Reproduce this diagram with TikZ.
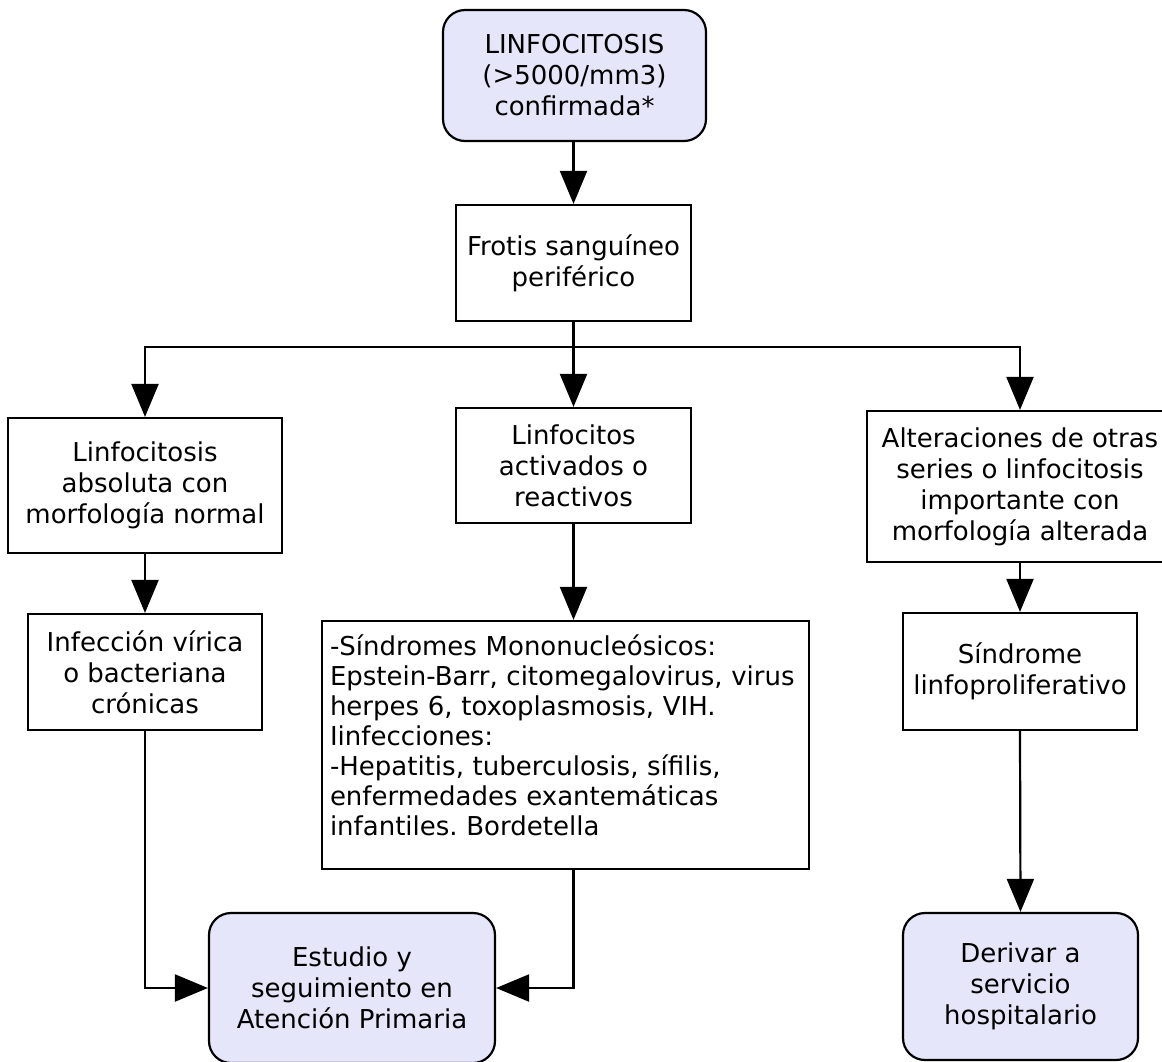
\documentclass[tikz,border=0pt]{standalone}
\usepackage{fontspec}
\setmainfont{DejaVu Sans}
\usetikzlibrary{arrows.meta}
\definecolor{lav}{HTML}{E6E6FA}
\begin{document}
\frenchspacing
\begin{tikzpicture}[x=1pt,y=-1pt,
  box/.style={draw=black, line width=2.2pt, align=center, inner sep=0pt,
    font=\fontsize{26}{31}\selectfont},
  rbox/.style={box, fill=lav, rounded corners=22pt},
  arr/.style={line width=2.2pt, -{Triangle[length=33pt,width=27pt]}},
  ln/.style={line width=2.2pt}]
\useasboundingbox (0,0) rectangle (1162,1061);
\node[rbox, minimum width=263pt, minimum height=131pt] (top) at (574.5,75.5)
  {LINFOCITOSIS\\(>5000/mm3)\\confirmada*};
\node[box, minimum width=235pt, minimum height=116pt] (frotis) at (573.5,263)
  {Frotis sanguíneo\\periférico};
\node[box, minimum width=274pt, minimum height=135pt] (left) at (145,485.5)
  {Linfocitosis\\absoluta con\\morfología normal};
\node[box, minimum width=235pt, minimum height=115pt] (mid) at (573.5,465.5)
  {Linfocitos\\activados o\\reactivos};
\node[box, minimum width=306pt, minimum height=151pt] (right) at (1020,486.5)
  {Alteraciones de otras\\series o linfocitosis\\importante con\\morfología alterada};
\node[box, minimum width=234pt, minimum height=116pt] (inf) at (145,672)
  {Infección vírica\\o bacteriana\\crónicas};
\node[box, minimum width=487pt, minimum height=248pt, align=left, text width=471pt,
  font=\fontsize{26}{30}\selectfont] (big) at (565.5,745)
  {-Síndromes Mononucleósicos:\\Epstein-Barr, citomegalovirus, virus\\herpes 6, toxoplasmosis, VIH.\\Iinfecciones:\\-Hepatitis, tuberculosis, sífilis,\\enfermedades exantemáticas\\infantiles. Bordetella\\[-10pt]\mbox{}};
\node[box, minimum width=234pt, minimum height=117pt] (sind) at (1020,671.5)
  {Síndrome\\linfoproliferativo};
\node[rbox, minimum width=286pt, minimum height=150pt] (est) at (352,988)
  {Estudio y\\seguimiento en\\Atención Primaria};
\node[rbox, minimum width=235pt, minimum height=147pt] (der) at (1020.5,986.5)
  {Derivar a\\servicio\\hospitalario};
\coordinate (jn) at (573.5,347);
\draw[arr] (top.south -| frotis.north) -- (frotis.north);
\draw[ln] (frotis.south) -- (jn);
\draw[arr] (jn) -| (left.north);
\draw[arr] (jn) -| (right.north);
\draw[arr] (jn) -- (mid.north);
\draw[arr] (left.south) -- (inf.north);
\draw[arr] (mid.south) -- (mid.south |- big.north);
\draw[arr] (right.south) -- (sind.north);
\draw[arr] (sind.south) -- (der.north);
\draw[arr] (inf.south) |- (est.west);
\draw[arr] (mid.south |- big.south) |- (est.east);
\end{tikzpicture}
\end{document}
